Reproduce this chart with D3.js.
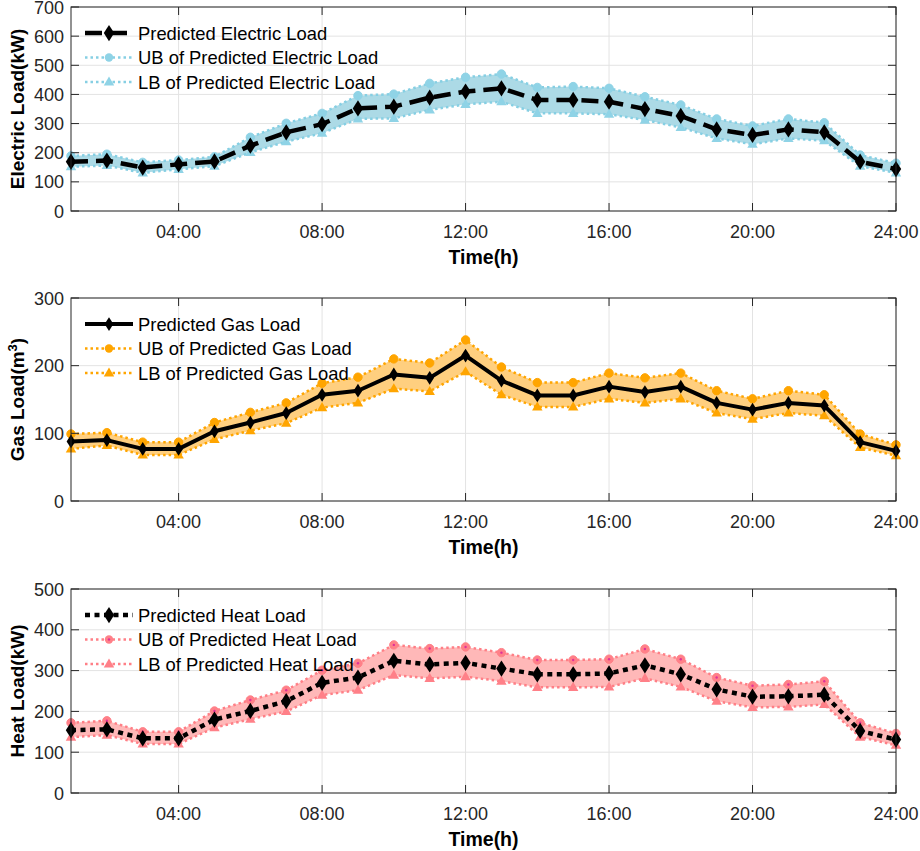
<!DOCTYPE html>
<html>
<head>
<meta charset="utf-8">
<script src="https://cdn.jsdelivr.net/npm/d3@7"></script>
<style>
body{margin:0;background:#fff;}
svg{font-family:"Liberation Sans",Arial,sans-serif;}
</style>
</head>
<body>
<div id="chart"></div>
<script>
// hours on the x axis
const hours=d3.range(1,25);
const tickHours=[4,8,12,16,20,24];
const tickLabels=["04:00","08:00","12:00","16:00","20:00","24:00"];

// electric load (kW)
const elecPred=[169,173,149,160,170,224,270,298,352,358,389,410,421,381,381,375,350,326,280,261,280,270,169,144];
const elecUB=[189,195,167,175,186,253,301,335,396,401,438,459,470,424,427,421,392,364,316,292,316,303,192,164];
const elecLB=[152,156,131,143,154,201,238,267,316,318,347,366,375,335,335,332,312,287,249,229,249,241,154,131];

// gas load (m3)
const gasPred=[88,90,77,77,103,116,130,157,163,187,182,215,178,156,156,169,161,169,145,135,145,141,87,74];
const gasUB=[99,101,87,87,116,131,145,174,183,210,204,238,198,175,175,189,182,189,163,151,163,157,99,83];
const gasLB=[77,82,68,68,91,104,115,138,145,166,162,191,157,139,139,151,145,151,130,121,130,126,79,67];

// heat load (kW)
const heatPred=[154,156,134,134,180,201,225,270,283,324,315,319,305,291,291,293,313,291,254,236,237,241,152,131];
const heatUB=[172,177,150,150,201,228,252,301,318,363,354,358,344,326,326,328,353,328,283,263,266,274,172,146];
const heatLB=[137,142,120,120,160,181,200,240,252,289,281,285,274,259,259,260,281,260,225,210,211,217,137,117];

const W=920,H=851;
const left=71,right=896;
const axisCol="#262626";

const svg=d3.select("#chart").append("svg")
  .attr("width",W).attr("height",H);

const x=d3.scaleLinear().domain([1,24]).range([left,right]);

const panels=[
  {top:7,bottom:211,max:700,ylabel:"Electric Load(kW)",pred:elecPred,ub:elecUB,lb:elecLB,
   fill:"#acdae6",line:"#86cfe3",marker:"#8fd3e6",dash:"17,8",predW:4.5,diam:6.5,
   names:["Predicted Electric Load","UB of Predicted Electric Load","LB of Predicted Electric Load"]},
  {top:298,bottom:501,max:300,ylabel:"Gas Load(m",sup:"3",pred:gasPred,ub:gasUB,lb:gasLB,
   fill:"#ffcf7f",line:"#ffa500",marker:"#ffa500",dash:null,predW:4,diam:5.5,
   names:["Predicted Gas Load","UB of Predicted Gas Load","LB of Predicted Gas Load"]},
  {top:589,bottom:793,max:500,ylabel:"Heat Load(kW)",pred:heatPred,ub:heatUB,lb:heatLB,
   fill:"#ffb8b8",line:"#ff7f86",marker:"#ff8088",dash:"5,4.5",predW:4.5,diam:6.5,pinkDot:true,
   names:["Predicted Heat Load","UB of Predicted Heat Load","LB of Predicted Heat Load"]}
];

function diamondPath(cx,cy,r){
  return "M"+cx+","+(cy-r*1.25)+"L"+(cx+r*0.8)+","+cy+"L"+cx+","+(cy+r*1.25)+"L"+(cx-r*0.8)+","+cy+"Z";
}
function triPath(cx,cy,r){
  return "M"+cx+","+(cy-r)+"L"+(cx+r*0.95)+","+(cy+r*0.65)+"L"+(cx-r*0.95)+","+(cy+r*0.65)+"Z";
}

panels.forEach(function(p){
  const y=d3.scaleLinear().domain([0,p.max]).range([p.bottom,p.top]);
  const g=svg.append("g");
  const yTicks=d3.range(0,p.max+1,100);

  // grid
  g.append("g").selectAll("line").data(tickHours).enter().append("line")
    .attr("x1",d=>x(d)).attr("x2",d=>x(d)).attr("y1",p.top).attr("y2",p.bottom)
    .attr("stroke","#e3e3e3").attr("stroke-width",1);
  g.append("g").selectAll("line").data(yTicks).enter().append("line")
    .attr("x1",left).attr("x2",right).attr("y1",d=>y(d)).attr("y2",d=>y(d))
    .attr("stroke","#e3e3e3").attr("stroke-width",1);

  // band between UB and LB
  const area=d3.area().x((d,i)=>x(hours[i])).y0((d,i)=>y(p.lb[i])).y1(d=>y(d));
  g.append("path").datum(p.ub).attr("d",area).attr("fill",p.fill).attr("stroke","none");

  const line=d3.line().x((d,i)=>x(hours[i])).y(d=>y(d));
  [p.ub,p.lb].forEach(function(s){
    g.append("path").datum(s).attr("d",line).attr("fill","none")
      .attr("stroke",p.line).attr("stroke-width",2.5).attr("stroke-dasharray","2.5,3");
  });
  // markers UB
  g.append("g").selectAll("circle").data(p.ub).enter().append("circle")
    .attr("cx",(d,i)=>x(hours[i])).attr("cy",d=>y(d)).attr("r",4.2)
    .attr("fill",p.marker).attr("stroke",p.marker);
  if(p.pinkDot){
    g.append("g").selectAll("circle").data(p.ub).enter().append("circle")
      .attr("cx",(d,i)=>x(hours[i])).attr("cy",d=>y(d)).attr("r",1.2).attr("fill","#e0309a");
  }
  // markers LB
  g.append("g").selectAll("path").data(p.lb).enter().append("path")
    .attr("d",(d,i)=>triPath(x(hours[i]),y(d),5.5)).attr("fill",p.marker);

  // predicted
  const pl=g.append("path").datum(p.pred).attr("d",line).attr("fill","none")
    .attr("stroke","#000").attr("stroke-width",p.predW).attr("stroke-linejoin","round");
  if(p.dash) pl.attr("stroke-dasharray",p.dash);
  g.append("g").selectAll("path").data(p.pred).enter().append("path")
    .attr("d",(d,i)=>diamondPath(x(hours[i]),y(d),p.diam)).attr("fill","#000");

  // box and ticks
  g.append("rect").attr("x",left).attr("y",p.top).attr("width",right-left).attr("height",p.bottom-p.top)
    .attr("fill","none").attr("stroke",axisCol).attr("stroke-width",1);
  tickHours.forEach(function(h){
    g.append("line").attr("x1",x(h)).attr("x2",x(h)).attr("y1",p.bottom).attr("y2",p.bottom-8).attr("stroke",axisCol);
    g.append("line").attr("x1",x(h)).attr("x2",x(h)).attr("y1",p.top).attr("y2",p.top+8).attr("stroke",axisCol);
  });
  yTicks.forEach(function(v){
    g.append("line").attr("x1",left).attr("x2",left+8).attr("y1",y(v)).attr("y2",y(v)).attr("stroke",axisCol);
    g.append("line").attr("x1",right).attr("x2",right-8).attr("y1",y(v)).attr("y2",y(v)).attr("stroke",axisCol);
  });

  // tick labels
  g.append("g").selectAll("text").data(tickHours).enter().append("text")
    .attr("x",d=>x(d)).attr("y",p.bottom+27).attr("text-anchor","middle")
    .attr("font-size",18).attr("fill",axisCol).text((d,i)=>tickLabels[i]);
  g.append("g").selectAll("text").data(yTicks).enter().append("text")
    .attr("x",left-7).attr("y",d=>y(d)+6.5).attr("text-anchor","end")
    .attr("font-size",18).attr("fill",axisCol).text(d=>d);

  // axis titles
  g.append("text").attr("x",(left+right)/2).attr("y",p.bottom+53).attr("text-anchor","middle")
    .attr("font-size",19.5).attr("font-weight","bold").attr("fill","#000").text("Time(h)");
  const yt=g.append("text").attr("transform","translate(24,"+((p.top+p.bottom)/2)+") rotate(-90)")
    .attr("text-anchor","middle").attr("font-size",19).attr("font-weight","bold").attr("fill","#000")
    .text(p.ylabel);
  if(p.sup){
    yt.append("tspan").attr("baseline-shift","super").attr("font-size",13).text(p.sup);
    yt.append("tspan").text(")");
  }

  // legend
  const lx0=85,lx1=133,ly=p.top+26;
  p.names.forEach(function(name,k){
    const yy=ly+k*24.5;
    const lg=g.append("g");
    if(k===0){
      const ll=lg.append("line").attr("x1",lx0).attr("x2",lx1).attr("y1",yy).attr("y2",yy)
        .attr("stroke","#000").attr("stroke-width",p.predW);
      if(p.dash) ll.attr("stroke-dasharray",p.dash);
      lg.append("path").attr("d",diamondPath((lx0+lx1)/2,yy,p.diam)).attr("fill","#000");
    }else{
      lg.append("line").attr("x1",lx0).attr("x2",lx1).attr("y1",yy).attr("y2",yy)
        .attr("stroke",p.line).attr("stroke-width",2.5).attr("stroke-dasharray","2.5,3");
      if(k===1){
        lg.append("circle").attr("cx",(lx0+lx1)/2).attr("cy",yy).attr("r",4.2).attr("fill",p.marker);
        if(p.pinkDot) lg.append("circle").attr("cx",(lx0+lx1)/2).attr("cy",yy).attr("r",1.2).attr("fill","#e0309a");
      }else{
        lg.append("path").attr("d",triPath((lx0+lx1)/2,yy,5.5)).attr("fill",p.marker);
      }
    }
    lg.append("text").attr("x",138).attr("y",yy+6.5).attr("font-size",18.4).attr("fill","#000").text(name);
  });
});
</script>
</body>
</html>
